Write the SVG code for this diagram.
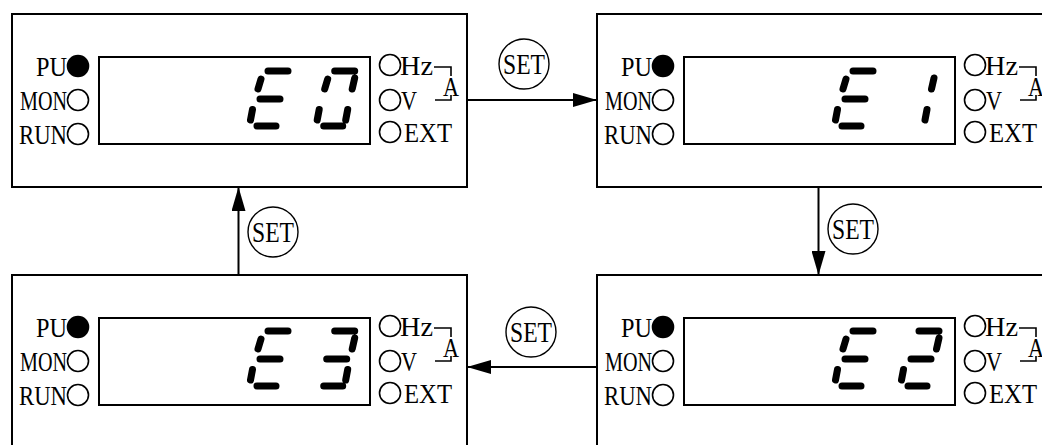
<svg xmlns="http://www.w3.org/2000/svg" xmlns:xlink="http://www.w3.org/1999/xlink" width="1042" height="445" viewBox="0 0 1042 445">
<style>
.box{fill:none;stroke:#000;stroke-width:2}
.disp{fill:none;stroke:#000;stroke-width:2}
.led{fill:#fff;stroke:#000;stroke-width:1.6}
.on{fill:#000;stroke:#000;stroke-width:1.6}
.t{font-family:"Liberation Serif","Times New Roman",serif;font-size:27px;fill:#000}
.s{font-family:"Liberation Serif","Times New Roman",serif;font-size:29px;fill:#000}
.br{fill:none;stroke:#000;stroke-width:1.6}
.seg{fill:none;stroke:#000;stroke-width:7;stroke-linecap:round}
.conn{fill:none;stroke:#000;stroke-width:2}
.setc{fill:#fff;stroke:#000;stroke-width:1.4}
</style>
<defs>
<marker id="ah" markerUnits="userSpaceOnUse" markerWidth="24" markerHeight="14" refX="24" refY="7" orient="auto">
<path d="M0,0 L24,7 L0,14 z" fill="#000"/>
</marker>
<path id="dE" class="seg" d="M3,0 L23,0 M-4,8 L-7,18 M-5,28 L15,28 M-12.5,38.5 L-14.5,49 M-8,55 L11,55"/>
<path id="d0" class="seg" d="M3,0 L23,0 M23,7 L20.5,18 M16,38.5 L14,49 M-8,55 L11,55 M-12.5,38.5 L-14.5,49 M-4,8 L-7,18"/>
<path id="d1" class="seg" d="M23,7 L20.5,18 M16,38.5 L14,49"/>
<path id="d2" class="seg" d="M3,0 L23,0 M23,7 L20.5,18 M-5,28 L15,28 M-12.5,38.5 L-14.5,49 M-8,55 L11,55"/>
<path id="d3" class="seg" d="M3,0 L23,0 M23,7 L20.5,18 M-5,28 L15,28 M16,38.5 L14,49 M-8,55 L11,55"/>
<g id="panel">
<rect x="12" y="14" width="455" height="173" class="box"/>
<rect x="99" y="57" width="271" height="87" class="disp"/>
<text class="t" x="67" y="75.5" text-anchor="end" textLength="31" lengthAdjust="spacingAndGlyphs">PU</text>
<text class="t" x="67" y="110" text-anchor="end" textLength="47" lengthAdjust="spacingAndGlyphs">MON</text>
<text class="t" x="67" y="144" text-anchor="end" textLength="48" lengthAdjust="spacingAndGlyphs">RUN</text>
<circle class="on" cx="78" cy="66" r="10.5"/>
<circle class="led" cx="78" cy="100" r="10.5"/>
<circle class="led" cx="78" cy="134" r="10.5"/>
<circle class="led" cx="390" cy="65" r="10.5"/>
<circle class="led" cx="390" cy="100" r="10.5"/>
<circle class="led" cx="390" cy="132" r="10.5"/>
<text class="t" x="400" y="74.5" textLength="33" lengthAdjust="spacingAndGlyphs">Hz</text>
<text class="t" x="401" y="109.5" textLength="16" lengthAdjust="spacingAndGlyphs">V</text>
<text class="t" x="404" y="142" textLength="48" lengthAdjust="spacingAndGlyphs">EXT</text>
<path class="br" d="M434,67 H451 V76 M435,100 H451 V95"/>
<text class="t" x="451" y="96" text-anchor="middle" textLength="16" lengthAdjust="spacingAndGlyphs">A</text>
</g>
</defs>

<g id="node-e0">
<use xlink:href="#panel" href="#panel"/>
<use xlink:href="#dE" href="#dE" transform="translate(265,71)"/>
<use xlink:href="#d0" href="#d0" transform="translate(331.7,71)"/>
</g>

<g id="node-e1" transform="translate(585,0)">
<use xlink:href="#panel" href="#panel"/>
<use xlink:href="#dE" href="#dE" transform="translate(265,71)"/>
<use xlink:href="#d1" href="#d1" transform="translate(326,71)"/>
</g>

<g id="node-e2" transform="translate(585,261)">
<use xlink:href="#panel" href="#panel"/>
<use xlink:href="#dE" href="#dE" transform="translate(265,70)"/>
<use xlink:href="#d2" href="#d2" transform="translate(331,70)"/>
</g>

<g id="node-e3" transform="translate(0,261)">
<use xlink:href="#panel" href="#panel"/>
<use xlink:href="#dE" href="#dE" transform="translate(265,70)"/>
<use xlink:href="#d3" href="#d3" transform="translate(331.7,70)"/>
</g>

<g id="connectors">
<path class="conn" d="M467,100 H597" marker-end="url(#ah)"/>
<path class="conn" d="M818.5,187 V275" marker-end="url(#ah)"/>
<path class="conn" d="M597,367 H467" marker-end="url(#ah)"/>
<path class="conn" d="M238.5,275 V187" marker-end="url(#ah)"/>
<circle class="setc" cx="524" cy="64" r="25"/>
<text class="s" x="524" y="74" text-anchor="middle" textLength="42" lengthAdjust="spacingAndGlyphs">SET</text>
<circle class="setc" cx="853" cy="229" r="25"/>
<text class="s" x="853" y="239" text-anchor="middle" textLength="42" lengthAdjust="spacingAndGlyphs">SET</text>
<circle class="setc" cx="531" cy="332" r="25"/>
<text class="s" x="531" y="342" text-anchor="middle" textLength="42" lengthAdjust="spacingAndGlyphs">SET</text>
<circle class="setc" cx="273" cy="232" r="25"/>
<text class="s" x="273" y="242" text-anchor="middle" textLength="42" lengthAdjust="spacingAndGlyphs">SET</text>
</g>
</svg>
